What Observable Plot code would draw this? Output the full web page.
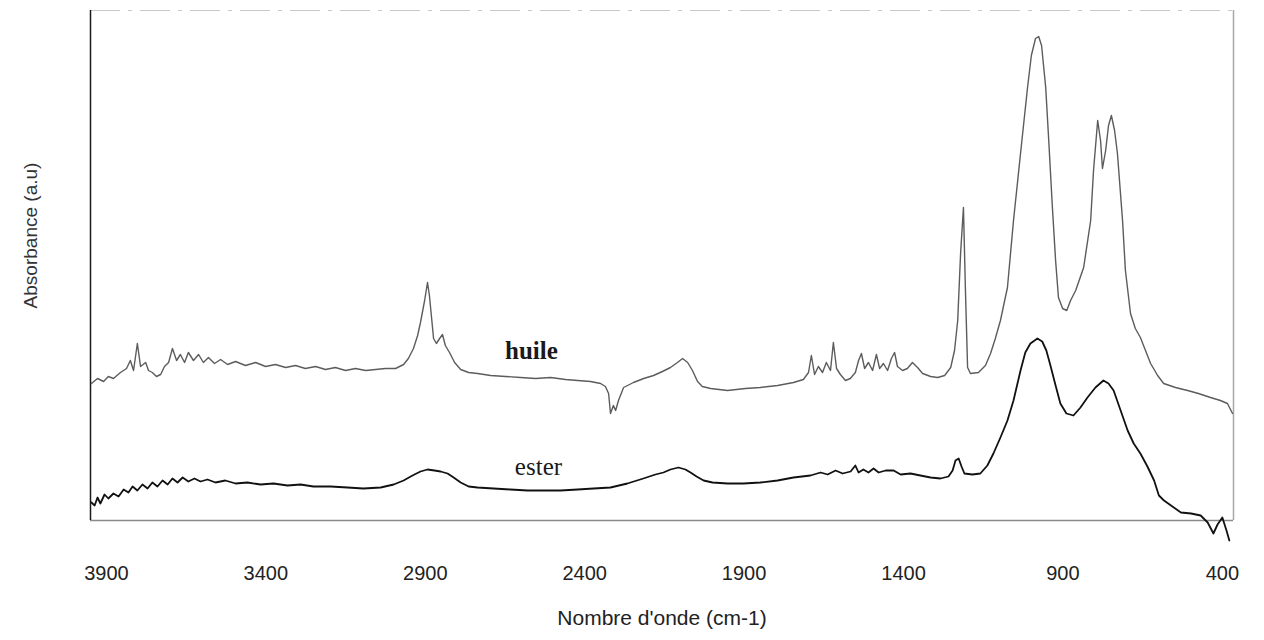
<!DOCTYPE html>
<html>
<head>
<meta charset="utf-8">
<script src="https://cdn.jsdelivr.net/npm/d3@7"></script>
<script src="https://cdn.jsdelivr.net/npm/@observablehq/plot@0.6"></script>
<style>
  html, body { margin: 0; padding: 0; background: #ffffff; }
  #chart { width: 1264px; height: 640px; }
</style>
</head>
<body>
<div id="chart"></div>
<script>
// ---- data ----
const xTicks = [3900, 3400, 2900, 2400, 1900, 1400, 900, 400];
const xDomain = [3950, 365];
const yDomain = [0, 102];

const seriesNames = ["huile", "ester"];

const huileWn = [3947,3928,3909,3894,3878,3856,3837,3825,3815,3803,3793,3777,3768,3756,3743,3730,3718,3705,3693,3680,3668,3655,3643,3627,3611,3596,3580,3561,3542,3520,3495,3464,3432,3401,3370,3338,3307,3276,3244,3213,3182,3150,3119,3087,3056,3025,2993,2968,2953,2937,2924,2915,2902,2893,2887,2880,2874,2865,2855,2846,2837,2824,2808,2789,2764,2736,2695,2648,2601,2554,2507,2460,2422,2382,2350,2335,2325,2319,2310,2303,2294,2278,2247,2215,2184,2156,2131,2109,2093,2077,2062,2046,2031,2005,1952,1896,1849,1795,1745,1714,1698,1689,1679,1667,1654,1642,1629,1620,1610,1598,1582,1567,1551,1541,1532,1522,1510,1497,1485,1475,1463,1450,1438,1428,1419,1403,1388,1372,1356,1340,1315,1293,1271,1252,1240,1230,1221,1212,1206,1199,1190,1165,1143,1127,1112,1096,1074,1055,1033,1011,999,986,976,967,954,945,933,923,914,901,888,876,860,835,813,804,791,782,776,766,757,748,738,729,713,704,688,673,657,641,625,603,584,547,509,475,437,406,384,368];
const huileAbs = [27.4,28.4,27.8,28.8,28.4,29.6,30.4,32,30,35.4,30.8,31.6,30,29.6,28.8,29.2,30.8,31.6,34.4,32,33.2,31.6,33.6,32,33.2,31.6,32.6,31.4,32.2,31.2,31.8,31,31.6,30.8,31.2,30.6,31,30.4,30.8,30.2,30.6,30,30.4,30,30.2,30.4,30.4,31.2,32.4,34.4,37,39.6,44,47.6,45,40.4,36.4,35.4,36.4,37.2,35,33.6,31.6,30.2,29.6,29.4,29,28.8,28.6,28.4,28.6,28.2,28,27.8,27.4,26.8,25.4,21.4,23,22,24,26.6,27.6,28.4,29,29.8,30.6,31.6,32.4,31.6,30,27.8,26.8,26.4,26,26.4,26.6,27,27.6,28.2,29.6,33,29.2,30.8,29.6,31.6,30,35.6,30.4,29.2,28,28.4,29.6,32,33.4,30.4,31.6,30,33.2,30.4,31.4,30,32.4,33.6,30.8,30,30.4,31.6,30.6,29.4,28.8,28.6,29,30.6,34,40,53.4,62.6,46.6,30.6,29.4,29.6,31,33.4,36.4,40,46.6,60,73.4,86.6,93,96.4,96.8,95,86.6,76.6,62.6,52,44.6,42.4,42,44,46,50.6,60,70,80,76,70.4,74,79,81,78,73.4,60,50,41.4,38.4,36.6,34,31.4,29,27.4,26.6,26,25.4,24.6,24,23.4,21.4];

const esterWn = [3947,3937,3928,3919,3906,3894,3878,3862,3846,3831,3818,3803,3787,3771,3756,3740,3724,3708,3693,3677,3661,3643,3624,3605,3583,3558,3527,3495,3458,3417,3376,3332,3291,3251,3197,3144,3094,3040,2999,2968,2940,2915,2893,2871,2852,2830,2811,2789,2764,2736,2686,2633,2579,2523,2476,2422,2372,2319,2266,2216,2178,2153,2131,2106,2084,2068,2049,2027,1999,1952,1902,1849,1795,1745,1692,1660,1638,1613,1591,1566,1551,1541,1526,1510,1494,1478,1456,1431,1409,1378,1347,1315,1284,1259,1246,1237,1227,1218,1209,1184,1159,1137,1118,1096,1074,1055,1033,1018,1002,980,965,952,940,923,908,889,867,845,823,798,773,757,741,719,697,678,657,635,614,599,583,561,530,498,468,446,428,415,400,387,378];
const esterAbs = [3.6,3,4.6,3.4,5.2,4.4,5.4,4.8,6.2,5.6,6.8,6,7.2,6.4,7.6,6.8,8,7.2,8.4,7.6,8.6,7.8,8.4,7.8,8.2,7.6,8,7.4,7.6,7.2,7.4,7,7.2,6.8,6.8,6.6,6.4,6.6,7.2,8,9,9.8,10.2,10,9.8,9.4,8.6,7.6,6.8,6.6,6.4,6.2,6,6,6,6.2,6.4,6.6,7.4,8.4,9.2,9.6,10.2,10.6,10.2,9.6,8.8,8,7.6,7.4,7.4,7.6,8,8.6,9,9.6,9.2,10,9.4,9.8,11,9.6,10.2,9.6,10.4,9.6,10,10,9.2,9.4,9,8.6,8.4,8.8,10,12,12.4,10.8,9.4,9.2,9.4,11,13.4,16.6,20,24,30,33.6,35.4,36.4,35.8,34,31.2,27,23.4,21.4,21,22.6,24.6,26.6,28,27.4,26,22,18,15.4,13.4,10.8,8,5,4,3,1.6,1.4,1,-0.4,-2.6,-0.8,0.6,-2,-4];

const labelWn = [2567, 2545];
const labelAbs = [34, 10.8];

// ---- tables built from the arrays ----
const huile = huileWn.map((w, i) => ({wn: w, a: huileAbs[i]}));
const ester = esterWn.map((w, i) => ({wn: w, a: esterAbs[i]}));
const labels = seriesNames.map((n, i) => ({name: n, wn: labelWn[i], a: labelAbs[i]}));

const sans = "'Liberation Sans', Arial, 'DejaVu Sans', sans-serif";
const serif = "'Liberation Serif', 'Times New Roman', serif";

const chart = Plot.plot({
  width: 1264,
  height: 640,
  marginLeft: 90,
  marginRight: 31,
  marginTop: 10,
  marginBottom: 120,
  style: {fontFamily: sans, background: "#ffffff", color: "#222"},
  x: {domain: xDomain},
  y: {domain: yDomain},
  marks: [
    // frame
    Plot.ruleY([yDomain[1]], {stroke: "#c8c8c8", strokeDasharray: "30,8,4,8"}),
    Plot.ruleX([xDomain[1]], {stroke: "#a8a8a8", strokeWidth: 1.5}),
    Plot.ruleY([yDomain[0]], {stroke: "#8a8a8a", strokeWidth: 1.5}),
    Plot.ruleX([xDomain[0]], {stroke: "#1a1a1a", strokeWidth: 1.5}),
    // spectra
    Plot.line(huile, {x: "wn", y: "a", stroke: "#5c5c5c", strokeWidth: 1.4, curve: "linear"}),
    Plot.line(ester, {x: "wn", y: "a", stroke: "#111111", strokeWidth: 1.8, curve: "linear"}),
    // series names
    Plot.text(labels.filter(d => d.name === "huile"), {x: "wn", y: "a", text: "name", fontFamily: serif, fontWeight: "bold", fontSize: 25, fill: "#1a1a1a"}),
    Plot.text(labels.filter(d => d.name === "ester"), {x: "wn", y: "a", text: "name", fontFamily: serif, fontSize: 25, fill: "#1a1a1a"}),
    // axes
    Plot.axisX({ticks: xTicks, tickFormat: d => String(d), tickSize: 0, tickPadding: 45, fontSize: 20, label: null}),
    Plot.axisY({ticks: [], label: null}),
    Plot.text(["Nombre d'onde (cm-1)"], {text: d => d, frameAnchor: "bottom", textAnchor: "middle", dy: 104, fontSize: 21, fill: "#222"}),
    Plot.text(["Absorbance (a.u)"], {text: d => d, frameAnchor: "left", textAnchor: "middle", dx: -60, dy: -30, rotate: -90, fontSize: 19, fill: "#333"})
  ]
});

document.getElementById("chart").appendChild(chart);
</script>
</body>
</html>
